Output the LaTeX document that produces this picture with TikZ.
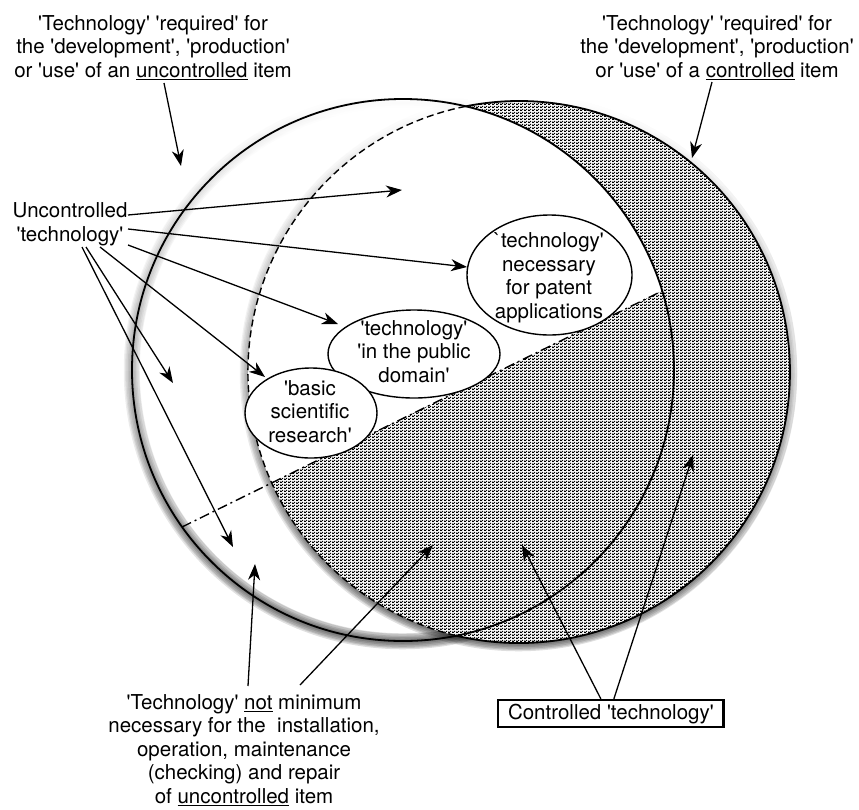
\documentclass[tikz,border=0pt]{standalone}
\usepackage{fontspec}
\newfontfamily\lab{TeX Gyre Heros}
\usetikzlibrary{arrows.meta,shapes.geometric,patterns.meta,fadings}

% fine staggered dot screen used for the controlled area
\tikzdeclarepattern{
  name=fdots, type=uncolored,
  bounding box={(0pt,0pt) and (4pt,3pt)},
  tile size={(4pt,3pt)},
  code={
    \fill (0.2pt,0.1pt) rectangle (2.6pt,1.4pt);
    \fill (2.2pt,1.6pt) rectangle (4pt,2.9pt);
    \fill (0pt,1.6pt) rectangle (0.6pt,2.9pt);
  }
}

\begin{document}
\begin{tikzpicture}[x=1pt,y=-1pt,
  txt/.style={font=\lab\fontsize{20.5}{23.5}\selectfont, align=center, inner sep=0pt, anchor=base},
  arr/.style={-{Stealth[length=16pt,width=12pt,inset=5pt]}, line width=1.3pt},
  rim/.style={line width=1.8pt},
  bubble/.style={ellipse, draw, fill=white, line width=1.4pt, inner sep=0pt},
  hidden/.style={line width=1.4pt, dash pattern=on 7pt off 4pt},
  split/.style={line width=1.4pt, dash pattern=on 10pt off 4pt on 2pt off 4pt},
  shade/.style={black, opacity=0.13, path fading=north}]

\fill[white] (0,0) rectangle (859,809);
\useasboundingbox (0,0) rectangle (859,809);

% circle centres and their upper crossing point
\coordinate (Lc) at (403,370);
\coordinate (Rc) at (519,372);
\coordinate (Rtop) at (465.4,106.4);
% ends of the dividing line on the left circle
\coordinate (A) at (182,527);
\coordinate (B) at (662,291);

% soft shadows of the two outlines, strongest along the lower rim
\begin{scope}[shift={(4,6)}]
  \foreach \w in {2,5,8,11,14,16}{
    \draw[shade, line width=\w pt] (Lc) circle[radius=271pt];
    \draw[shade, line width=\w pt] (Rc) circle[radius=271pt];
  }
\end{scope}

% the right circle is opaque: it hides the shadows that fall inside it
\fill[white] (Rc) circle[radius=271pt];

% controlled area: right circle outside the left one
\begin{scope}
  \clip (Rc) circle[radius=271pt];
  \fill[pattern=fdots, pattern color=black, even odd rule]
    (-10,-10) rectangle (870,820) (Lc) circle[radius=271pt];
\end{scope}
% controlled area: overlap below the dividing line
\begin{scope}
  \clip (Rc) circle[radius=271pt];
  \clip (Lc) circle[radius=271pt];
  \fill[pattern=fdots, pattern color=black]
    (0,616.5) -- (859,194.1) -- (859,809) -- (0,809) -- cycle;
\end{scope}

% outlines
\draw[rim] (Lc) circle[radius=271pt];
\draw[rim] (Rtop) arc[start angle=101.4, end angle=-103.4, radius=271pt];
\draw[hidden] (Rtop) arc[start angle=101.4, end angle=256.6, radius=271pt];
\draw[split] (A) -- (B);

% bubbles
\node[bubble, minimum width=165pt, minimum height=120pt] (e1) at (549.5,275) {};
\node[bubble, minimum width=172pt, minimum height=88pt] (e2) at (414,354) {};
\node[bubble, minimum width=132pt, minimum height=90pt] (e3) at (311,413) {};

% texts are placed by the baseline of their last line
\node[txt] (t1) at (549,318) {`technology'\\necessary\\for patent\\applications};
\node[txt] (t2) at (414,382) {'technology'\\'in the public\\domain'};
\node[txt] (t3) at (310,442) {'basic\\scientific\\research'};

% labels
\node[txt] (tl) at (153,77) {'Technology' 'required' for\\the 'development', 'production'\\or 'use' of an \underline{uncontrolled} item};
\node[txt] (tr) at (717,77) {'Technology' 'required' for\\the 'development', 'production'\\or 'use' of a \underline{controlled} item};
\node[txt] (unc) at (70,241) {Uncontrolled\\'technology'};
\node[txt] (bot) at (244,803) {'Technology' \underline{not} minimum\\necessary for the\ \ installation,\\operation, maintenance\\(checking) and repair\\of \underline{uncontrolled} item};
\node[txt, draw, line width=2.6pt, inner xsep=10pt, inner ysep=3.5pt, anchor=base east] (ctl) at (725,719) {Controlled 'technology'};

% connector ends
\coordinate (tlS) at (164,83);   \coordinate (tlT) at (181,166);
\coordinate (trS) at (712,82);   \coordinate (trT) at (692,158);
\coordinate (uaS) at (128,215);  \coordinate (uaT) at (402,190);
\coordinate (ubS) at (128,229);  \coordinate (ubT) at (467,267);
\coordinate (ucS) at (128,245);  \coordinate (ucT) at (338,324);
\coordinate (udS) at (100,247);  \coordinate (udT) at (265,377);
\coordinate (ueS) at (86,247);   \coordinate (ueT) at (173,383);
\coordinate (ufS) at (82,247);   \coordinate (ufT) at (233,547);
\coordinate (baS) at (248,686);  \coordinate (baT) at (255,564);
\coordinate (bbS) at (300,685);  \coordinate (bbT) at (433,545);
\coordinate (caS) at ([xshift=-10pt]ctl.north); \coordinate (caT) at (522,545);
\coordinate (cbS) at ([xshift=3pt]ctl.north);   \coordinate (cbT) at (693,455);

% connectors
\draw[arr] (tlS) -- (tlT);
\draw[arr] (trS) -- (trT);
\draw[arr] (uaS) -- (uaT);
\draw[arr] (ubS) -- (ubT);
\draw[arr] (ucS) -- (ucT);
\draw[arr] (udS) -- (udT);
\draw[arr] (ueS) -- (ueT);
\draw[arr] (ufS) -- (ufT);
\draw[arr] (baS) -- (baT);
\draw[arr] (bbS) -- (bbT);
\draw[arr] (caS) -- (caT);
\draw[arr] (cbS) -- (cbT);
\end{tikzpicture}
\end{document}
